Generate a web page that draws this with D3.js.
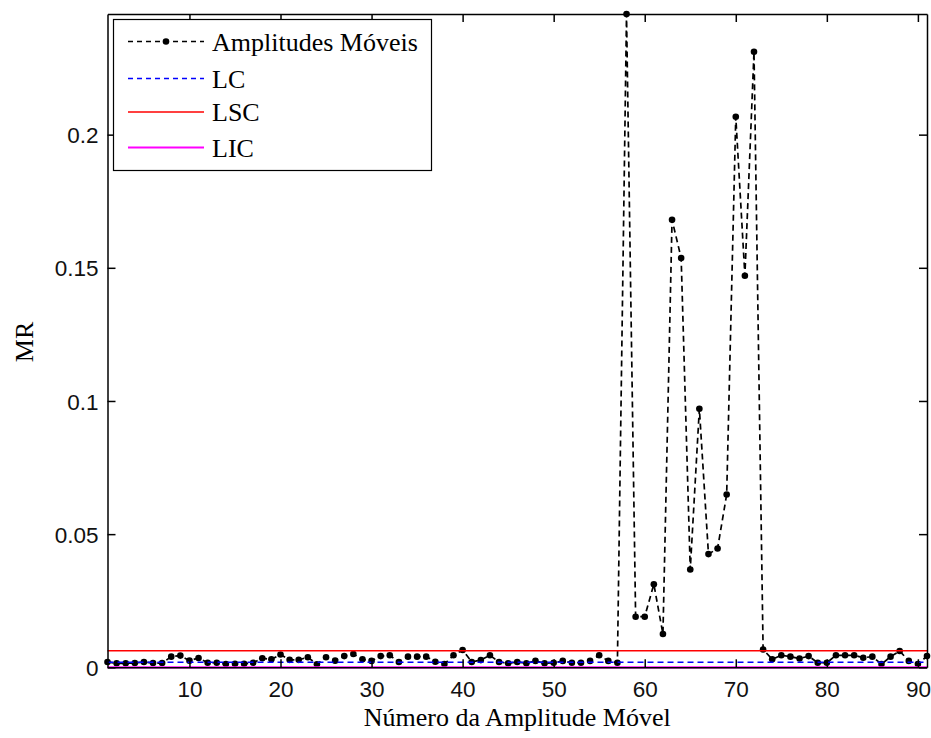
<!DOCTYPE html>
<html>
<head>
<meta charset="utf-8">
<script src="https://cdn.jsdelivr.net/npm/d3@7"></script>
<style>
  html, body { margin: 0; padding: 0; background: #ffffff; }
  svg { display: block; }
  .tick text { font-family: "Liberation Sans", Arial, sans-serif; font-size: 22.5px; fill: #111; }
  .lbl { font-family: "Liberation Serif", "Times New Roman", serif; font-size: 26px; fill: #000; }
</style>
</head>
<body>
<svg id="chart" width="931" height="738"></svg>
<script>
// Moving ranges (MR) of consecutive observations, numbered 1..91
const mrIndex = d3.range(1, 92);
const mrValues = [
  0.0020, 0.0015, 0.0015, 0.0016, 0.0020, 0.0016, 0.0016, 0.0040, 0.0044, 0.0025,
  0.0035, 0.0017, 0.0017, 0.0012, 0.0013, 0.0013, 0.0017, 0.0034, 0.0030, 0.0048,
  0.0028, 0.0028, 0.0038, 0.0011, 0.0038, 0.0025, 0.0042, 0.0050, 0.0030, 0.0024,
  0.0042, 0.0045, 0.0020, 0.0040, 0.0040, 0.0040, 0.0021, 0.0012, 0.0045, 0.0065,
  0.0020, 0.0027, 0.0045, 0.0020, 0.0015, 0.0020, 0.0015, 0.0024, 0.0015, 0.0017,
  0.0024, 0.0017, 0.0017, 0.0024, 0.0045, 0.0024, 0.0017, 0.2453, 0.0190, 0.0190,
  0.0312, 0.0125, 0.1680, 0.1537, 0.0367, 0.0971, 0.0425, 0.0446, 0.0649, 0.2067,
  0.1470, 0.2311, 0.0067, 0.0030, 0.0045, 0.0040, 0.0033, 0.0042, 0.0017, 0.0017,
  0.0045, 0.0045, 0.0045, 0.0036, 0.0040, 0.0012, 0.0040, 0.0061, 0.0024, 0.0012,
  0.0042
];

// Control limits
const LC = 0.0019;
const LSC = 0.0062;
const LIC = 0;

const xTicks = [10, 20, 30, 40, 50, 60, 70, 80, 90];
const yTicks = [0, 0.05, 0.1, 0.15, 0.2];
const yTickLabels = ["0", "0.05", "0.1", "0.15", "0.2"];

const legendLabels = ["Amplitudes Móveis", "LC", "LSC", "LIC"];

const svg = d3.select("#chart");
const plot = { left: 107.5, right: 927, top: 14, bottom: 667.3 };

const x = d3.scaleLinear().domain([1, 91]).range([plot.left, plot.right]);
const y = d3.scaleLinear().domain([0, d3.max(mrValues)]).range([plot.bottom, plot.top]);

const series = mrIndex.map((i, k) => ({ i, v: mrValues[k] }));

// Moving range series: dashed black line with dot markers
svg.append("path")
  .datum(series)
  .attr("fill", "none")
  .attr("stroke", "#000")
  .attr("stroke-width", 1.7)
  .attr("stroke-dasharray", "6,4")
  .attr("d", d3.line().x(d => x(d.i)).y(d => y(d.v)));

svg.append("g").selectAll("circle")
  .data(series)
  .join("circle")
  .attr("cx", d => x(d.i))
  .attr("cy", d => y(d.v))
  .attr("r", 3.3)
  .attr("fill", "#000");

// Control limit lines
const limits = [
  { v: LC, color: "#0000ff", dash: "6,4", w: 1.6 },
  { v: LSC, color: "#ff0000", dash: null, w: 1.6 },
  { v: LIC, color: "#ff00ff", dash: null, w: 2.2 }
];
svg.append("g").selectAll("line")
  .data(limits)
  .join("line")
  .attr("x1", plot.left).attr("x2", plot.right)
  .attr("y1", d => y(d.v)).attr("y2", d => y(d.v))
  .attr("stroke", d => d.color)
  .attr("stroke-width", d => d.w)
  .attr("stroke-dasharray", d => d.dash);

// Axes with inward ticks on all four sides
const tickLen = 8;
const xAxis = svg.append("g")
  .attr("transform", `translate(0,${plot.bottom})`)
  .call(d3.axisBottom(x).tickValues(xTicks).tickSize(-tickLen).tickSizeOuter(0).tickPadding(0));
xAxis.selectAll(".tick text").attr("dy", null).attr("y", 30);

svg.append("g")
  .attr("transform", `translate(0,${plot.top})`)
  .call(d3.axisTop(x).tickValues(xTicks).tickSize(-tickLen).tickSizeOuter(0).tickFormat(""));

const yAxis = svg.append("g")
  .attr("transform", `translate(${plot.left},0)`)
  .call(d3.axisLeft(y).tickValues(yTicks).tickSize(-tickLen).tickSizeOuter(0)
    .tickFormat((d, k) => yTickLabels[k]).tickPadding(0));
yAxis.selectAll(".tick text").attr("x", -9).attr("dy", "0.36em");

svg.append("g")
  .attr("transform", `translate(${plot.right},0)`)
  .call(d3.axisRight(y).tickValues(yTicks).tickSize(-tickLen).tickSizeOuter(0).tickFormat(""));

svg.selectAll(".domain, .tick line").attr("stroke", "#000").attr("stroke-width", 1.5);

// Axis titles
svg.append("text").attr("class", "lbl")
  .attr("x", (plot.left + plot.right) / 2).attr("y", 726)
  .attr("text-anchor", "middle")
  .text("Número da Amplitude Móvel");

svg.append("text").attr("class", "lbl")
  .attr("transform", "translate(33,342) rotate(-90)")
  .attr("text-anchor", "middle")
  .text("MR");

// Legend
const lg = svg.append("g");
lg.append("rect")
  .attr("x", 113.5).attr("y", 19.5).attr("width", 318).attr("height", 151)
  .attr("fill", "#fff").attr("stroke", "#000").attr("stroke-width", 1.2);

const rows = [41.5, 78.5, 112, 147.5];
const styles = [
  { color: "#000", dash: "5,4", marker: true, w: 1.5 },
  { color: "#0000ff", dash: "5,4", marker: false, w: 1.5 },
  { color: "#ff0000", dash: null, marker: false, w: 1.5 },
  { color: "#ff00ff", dash: null, marker: false, w: 2.2 }
];
legendLabels.forEach((t, k) => {
  const g = lg.append("g");
  g.append("line")
    .attr("x1", 128).attr("x2", 204).attr("y1", rows[k]).attr("y2", rows[k])
    .attr("stroke", styles[k].color).attr("stroke-width", styles[k].w)
    .attr("stroke-dasharray", styles[k].dash);
  if (styles[k].marker) {
    g.append("circle").attr("cx", 166).attr("cy", rows[k]).attr("r", 3.3).attr("fill", "#000");
  }
  g.append("text").attr("class", "lbl")
    .attr("x", 212).attr("y", rows[k] + 9)
    .text(t);
});
</script>
</body>
</html>
